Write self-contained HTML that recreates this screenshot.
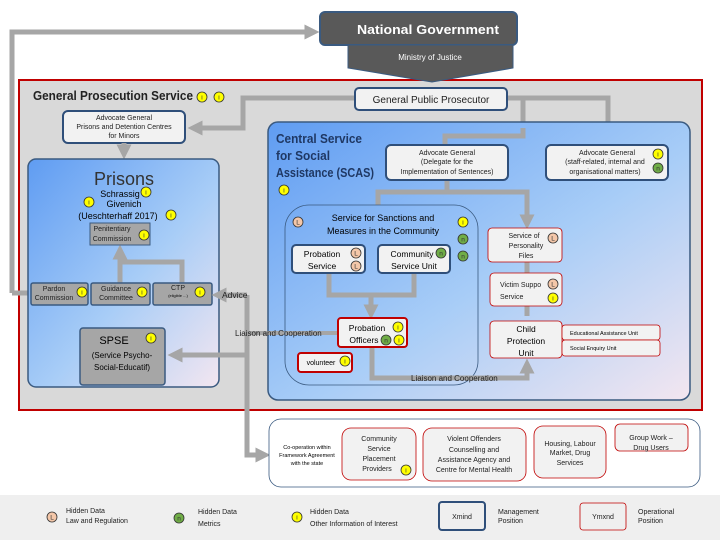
<!DOCTYPE html>
<html><head><meta charset="utf-8"><style>
body{margin:0;background:#fff}
svg{display:block;font-family:"Liberation Sans",sans-serif}
.s{font-size:7px;fill:#222}
</style></head><body>
<svg width="720" height="540" viewBox="0 0 720 540" xmlns="http://www.w3.org/2000/svg">
<defs>
<linearGradient id="bl" x1="0" y1="0" x2="1" y2="1">
<stop offset="0" stop-color="#5f9cf2"/><stop offset="0.55" stop-color="#a8cdf7"/><stop offset="1" stop-color="#f3e6f0"/>
</linearGradient>
<marker id="ar" markerWidth="3" markerHeight="3" refX="1.5" refY="1.5" orient="auto" markerUnits="strokeWidth"><path d="M0,0 L3,1.5 L0,3z" fill="#a6a6a6"/></marker>
</defs>
<rect x="19" y="80" width="683" height="330" fill="#d9d9d9" stroke="#c00000" stroke-width="2"/>
<path d="M12,293 L12,32 L312,32" fill="none" stroke="#a6a6a6" stroke-width="5" marker-end="url(#ar)"/>
<path d="M12,293 L30,293" stroke="#a6a6a6" stroke-width="5"/>
<rect x="320" y="12" width="197" height="33" rx="5" fill="#595959" stroke="#3a5a80" stroke-width="2"/>
<text x="428" y="34" font-size="13" font-weight="bold" fill="#fff" text-anchor="middle" textLength="142" lengthAdjust="spacingAndGlyphs">National Government</text>
<path d="M348,45 L513,45 L513,68 L432,82 L348,68z" fill="#595959" stroke="#3a5a80"/>
<text x="430" y="60" font-size="8" fill="#fff" text-anchor="middle">Ministry of Justice</text>
<text x="33" y="100" font-size="12.5" font-weight="bold" fill="#222" textLength="160" lengthAdjust="spacingAndGlyphs">General Prosecution Service</text>
<path d="M355,98 L243,98 L243,128 L195,128" fill="none" stroke="#a6a6a6" stroke-width="5" marker-end="url(#ar)"/>
<path d="M507,98 L608,98 L608,138" fill="none" stroke="#a6a6a6" stroke-width="5" marker-end="url(#ar)"/>
<path d="M523,98 L523,128" fill="none" stroke="#a6a6a6" stroke-width="5"/>
<rect x="355" y="88" width="152" height="22" rx="4" fill="#f2f2f2" stroke="#2f4f7a" stroke-width="2"/>
<text x="431" y="103" font-size="10" text-anchor="middle" fill="#222">General Public Prosecutor</text>
<rect x="63" y="111" width="122" height="32" rx="5" fill="#f2f2f2" stroke="#2f4f7a" stroke-width="2"/>
<text class="s" x="124" y="120" text-anchor="middle">Advocate General</text>
<text class="s" x="124" y="129" text-anchor="middle">Prisons and Detention Centres</text>
<text class="s" x="124" y="138" text-anchor="middle">for Minors</text>
<path d="M124,143 L124,152" stroke="#a6a6a6" stroke-width="5" marker-end="url(#ar)"/>
<rect x="28" y="159" width="191" height="228" rx="8" fill="url(#bl)" stroke="#3a5a80" stroke-width="1.5"/>
<text x="124" y="185" font-size="18" text-anchor="middle" fill="#333">Prisons</text>
<text x="120" y="197" font-size="9" text-anchor="middle">Schrassig</text>
<text x="124" y="207" font-size="9" text-anchor="middle">Givenich</text>
<text x="118" y="219" font-size="9" text-anchor="middle">(Ueschterhaff 2017)</text>
<path d="M120,283 L120,250 M182,283 L182,262 L120,262" fill="none" stroke="#a6a6a6" stroke-width="5"/>
<path d="M120,262 L120,252" stroke="#a6a6a6" stroke-width="5" marker-end="url(#ar)"/>
<rect x="90" y="223" width="60" height="22" fill="#a6a6a6" stroke="#3a5a80"/>
<text class="s" x="112" y="231" text-anchor="middle">Penitentiary</text>
<text class="s" x="112" y="241" text-anchor="middle">Commission</text>
<rect x="31" y="283" width="57" height="22" rx="2" fill="#a6a6a6" stroke="#3a5a80" stroke-width="1.5"/>
<text class="s" x="54" y="291" text-anchor="middle">Pardon</text><text class="s" x="54" y="300" text-anchor="middle">Commission</text>
<rect x="91" y="283" width="59" height="22" rx="2" fill="#a6a6a6" stroke="#3a5a80" stroke-width="1.5"/>
<text class="s" x="116" y="291" text-anchor="middle">Guidance</text><text class="s" x="116" y="300" text-anchor="middle">Committee</text>
<rect x="153" y="283" width="59" height="22" rx="2" fill="#a6a6a6" stroke="#3a5a80" stroke-width="1.5"/>
<text class="s" x="178" y="290" text-anchor="middle">CTP</text><text x="178" y="297" font-size="4" text-anchor="middle">(eligible ...)</text>
<rect x="80" y="328" width="85" height="57" rx="3" fill="#a6a6a6" stroke="#3a5a80" stroke-width="1.5"/>
<text x="114" y="344" font-size="11" text-anchor="middle">SPSE</text>
<text x="122" y="358" font-size="8" text-anchor="middle">(Service Psycho-</text>
<text x="122" y="370" font-size="8" text-anchor="middle">Social-Educatif)</text>
<path d="M247,295 L247,455 L263,455" fill="none" stroke="#a6a6a6" stroke-width="5" marker-end="url(#ar)"/>
<path d="M247,295 L219,295" stroke="#a6a6a6" stroke-width="5" marker-end="url(#ar)"/>
<path d="M247,355 L175,355" stroke="#a6a6a6" stroke-width="5" marker-end="url(#ar)"/>
<text x="222" y="298" font-size="8.5" fill="#222">Advice</text>
<rect x="268" y="122" width="422" height="278" rx="10" fill="url(#bl)" stroke="#3a5a80" stroke-width="1.5"/>
<path d="M247,333 L338,333" stroke="#a6a6a6" stroke-width="4"/>
<text x="235" y="336" font-size="8" fill="#222">Liaison and Cooperation</text>
<text font-size="12.5" font-weight="bold" fill="#1f3864"><tspan x="276" y="143" textLength="86" lengthAdjust="spacingAndGlyphs">Central Service</tspan><tspan x="276" y="160" textLength="54" lengthAdjust="spacingAndGlyphs">for Social</tspan><tspan x="276" y="177" textLength="98" lengthAdjust="spacingAndGlyphs">Assistance (SCAS)</tspan></text>
<path d="M523,128 L523,136 L445,136 L445,145" fill="none" stroke="#a6a6a6" stroke-width="5"/>
<path d="M447,180 L447,192 L378,192 L378,205 M447,192 L527,192 L527,222" fill="none" stroke="#a6a6a6" stroke-width="5"/>
<path d="M527,215 L527,222" stroke="#a6a6a6" stroke-width="5" marker-end="url(#ar)"/>
<rect x="386" y="145" width="122" height="35" rx="5" fill="#f2f2f2" stroke="#2f4f7a" stroke-width="2"/>
<text class="s" x="447" y="155" text-anchor="middle">Advocate General</text>
<text class="s" x="447" y="164" text-anchor="middle">(Delegate for the</text>
<text class="s" x="447" y="174" text-anchor="middle">Implementation of Sentences)</text>
<rect x="546" y="145" width="122" height="35" rx="5" fill="#f2f2f2" stroke="#2f4f7a" stroke-width="2"/>
<text class="s" x="607" y="155" text-anchor="middle">Advocate General</text>
<text class="s" x="605" y="164" text-anchor="middle">(staff-related, internal and</text>
<text class="s" x="605" y="174" text-anchor="middle">organisational matters)</text>
<rect x="285" y="205" width="193" height="180" rx="24" fill="none" stroke="#3a5a80" stroke-width="0.8"/>
<text x="383" y="221" font-size="9" text-anchor="middle">Service for Sanctions and</text>
<text x="383" y="234" font-size="9" text-anchor="middle">Measures in the Community</text>
<path d="M329,273 L329,295 L414,295 L414,273 M371,295 L371,310" fill="none" stroke="#a6a6a6" stroke-width="5"/>
<path d="M371,305 L371,312" stroke="#a6a6a6" stroke-width="5" marker-end="url(#ar)"/>
<path d="M372,347 L372,378 L527,378 L527,366" fill="none" stroke="#a6a6a6" stroke-width="5" marker-end="url(#ar)"/>
<path d="M527,262 L527,273 M527,306 L527,316" stroke="#a6a6a6" stroke-width="5"/>
<rect x="292" y="245" width="73" height="28" rx="4" fill="#f2f2f2" stroke="#2f4f7a" stroke-width="2"/>
<text x="322" y="257" font-size="8.5" text-anchor="middle">Probation</text><text x="322" y="269" font-size="8.5" text-anchor="middle">Service</text>
<rect x="378" y="245" width="72" height="28" rx="4" fill="#f2f2f2" stroke="#2f4f7a" stroke-width="2"/>
<text x="412" y="257" font-size="8.5" text-anchor="middle">Community</text><text x="414" y="269" font-size="8.5" text-anchor="middle">Service Unit</text>
<rect x="338" y="318" width="69" height="29" rx="3" fill="#f2f2f2" stroke="#c00000" stroke-width="2"/>
<text x="367" y="331" font-size="8.5" text-anchor="middle">Probation</text><text x="364" y="343" font-size="8.5" text-anchor="middle">Officers</text>
<rect x="298" y="353" width="54" height="19" rx="3" fill="#f2f2f2" stroke="#c00000" stroke-width="2"/>
<text x="321" y="365" font-size="7" text-anchor="middle">volunteer</text>
<rect x="488" y="228" width="74" height="34" rx="4" fill="#f2f2f2" stroke="#c00000" stroke-width="0.8"/>
<text class="s" x="524" y="238" text-anchor="middle">Service of</text><text class="s" x="526" y="248" text-anchor="middle">Personality</text><text class="s" x="526" y="258" text-anchor="middle">Files</text>
<rect x="490" y="273" width="72" height="33" rx="4" fill="#f2f2f2" stroke="#c00000" stroke-width="0.8"/>
<text class="s" x="500" y="287">Victim Suppo</text><text class="s" x="500" y="299">Service</text>
<rect x="490" y="321" width="72" height="37" rx="4" fill="#f2f2f2" stroke="#c00000" stroke-width="0.8"/>
<text x="526" y="332" font-size="8.5" text-anchor="middle">Child</text><text x="526" y="344" font-size="8.5" text-anchor="middle">Protection</text><text x="526" y="356" font-size="8.5" text-anchor="middle">Unit</text>
<rect x="562" y="325" width="98" height="15" rx="3" fill="#f2f2f2" stroke="#c00000" stroke-width="0.8"/>
<text x="570" y="335" font-size="5.5">Educational Assistance Unit</text>
<rect x="562" y="340" width="98" height="16" rx="3" fill="#f2f2f2" stroke="#c00000" stroke-width="0.8"/>
<text x="570" y="350" font-size="5.5">Social Enquiry Unit</text>
<text x="411" y="381" font-size="8" fill="#222">Liaison and Cooperation</text>
<rect x="269" y="419" width="431" height="68" rx="12" fill="#fff" stroke="#3a5a80" stroke-width="0.8"/>
<text x="307" y="449" font-size="5.5" text-anchor="middle">Co-operation within</text>
<text x="307" y="457" font-size="5.5" text-anchor="middle">Framework Agreement</text>
<text x="307" y="465" font-size="5.5" text-anchor="middle">with the state</text>
<rect x="342" y="428" width="74" height="52" rx="9" fill="#f2f2f2" stroke="#c00000" stroke-width="0.8"/>
<text class="s" x="379" y="441" text-anchor="middle">Community</text><text class="s" x="379" y="451" text-anchor="middle">Service</text><text class="s" x="379" y="461" text-anchor="middle">Placement</text><text class="s" x="377" y="471" text-anchor="middle">Providers</text>
<rect x="423" y="428" width="103" height="53" rx="9" fill="#f2f2f2" stroke="#c00000" stroke-width="0.8"/>
<text class="s" x="474" y="441" text-anchor="middle">Violent Offenders</text><text class="s" x="474" y="452" text-anchor="middle">Counselling and</text><text class="s" x="474" y="462" text-anchor="middle">Assistance Agency and</text><text class="s" x="474" y="472" text-anchor="middle">Centre for Mental Health</text>
<rect x="534" y="426" width="72" height="52" rx="9" fill="#f2f2f2" stroke="#c00000" stroke-width="0.8"/>
<text class="s" x="570" y="446" text-anchor="middle">Housing, Labour</text><text class="s" x="570" y="455" text-anchor="middle">Market, Drug</text><text class="s" x="570" y="465" text-anchor="middle">Services</text>
<rect x="615" y="424" width="73" height="27" rx="5" fill="#f2f2f2" stroke="#c00000" stroke-width="0.8"/>
<text class="s" x="651" y="440" text-anchor="middle">Group Work –</text><text class="s" x="651" y="450" text-anchor="middle">Drug Users</text>
<rect x="0" y="495" width="720" height="45" fill="#efefef"/>
<text class="s" x="66" y="513">Hidden Data</text><text class="s" x="66" y="523">Law and Regulation</text>
<text class="s" x="198" y="514">Hidden Data</text><text class="s" x="198" y="526">Metrics</text>
<text class="s" x="310" y="514">Hidden Data</text><text class="s" x="310" y="526">Other Information of Interest</text>
<rect x="439" y="502" width="46" height="28" rx="3" fill="#efefef" stroke="#2f4f7a" stroke-width="2"/>
<text class="s" x="462" y="519" text-anchor="middle">Xmind</text>
<text class="s" x="498" y="514">Management</text><text class="s" x="498" y="523">Position</text>
<rect x="580" y="503" width="46" height="27" rx="3" fill="#efefef" stroke="#c00000" stroke-width="0.8"/>
<text class="s" x="603" y="519" text-anchor="middle">Ymxnd</text>
<text class="s" x="638" y="514">Operational</text><text class="s" x="638" y="523">Position</text>
<g font-size="7" text-anchor="middle" stroke-width="0.8">
<g fill="#ffff00" stroke="#333">
<circle cx="202" cy="97" r="5"/><circle cx="219" cy="97" r="5"/>
<circle cx="146" cy="192" r="5"/><circle cx="89" cy="202" r="5"/><circle cx="171" cy="215" r="5"/>
<circle cx="144" cy="235" r="5"/><circle cx="82" cy="292" r="5"/><circle cx="142" cy="292" r="5"/><circle cx="200" cy="292" r="5"/>
<circle cx="151" cy="338" r="5"/><circle cx="284" cy="190" r="5"/><circle cx="463" cy="222" r="5"/>
<circle cx="398" cy="327" r="5"/><circle cx="399" cy="340" r="5"/><circle cx="345" cy="361" r="5"/>
<circle cx="553" cy="298" r="5"/><circle cx="658" cy="154" r="5"/><circle cx="406" cy="470" r="5"/><circle cx="297" cy="517" r="5"/>
</g>
<g fill="#70ad47" stroke="#333">
<circle cx="463" cy="239" r="5"/><circle cx="463" cy="256" r="5"/><circle cx="441" cy="253" r="5"/><circle cx="386" cy="340" r="5"/><circle cx="658" cy="168" r="5"/><circle cx="179" cy="518" r="5"/>
</g>
<g fill="#f4c7a9" stroke="#333">
<circle cx="298" cy="222" r="5"/><circle cx="356" cy="253" r="5"/><circle cx="356" cy="266" r="5"/><circle cx="553" cy="238" r="5"/><circle cx="553" cy="284" r="5"/><circle cx="52" cy="517" r="5"/>
</g>
</g>
<g font-size="6.5" text-anchor="middle" fill="#333">
<text x="202" y="99.5">i</text><text x="219" y="99.5">i</text><text x="146" y="194.5">i</text><text x="89" y="204.5">i</text><text x="171" y="217.5">i</text><text x="144" y="237.5">i</text><text x="82" y="294.5">i</text><text x="142" y="294.5">i</text><text x="200" y="294.5">i</text><text x="151" y="340.5">i</text><text x="284" y="192.5">i</text><text x="463" y="224.5">i</text><text x="398" y="329.5">i</text><text x="399" y="342.5">i</text><text x="345" y="363.5">i</text><text x="553" y="300.5">i</text><text x="658" y="156.5">i</text><text x="406" y="472.5">i</text><text x="297" y="519.5">i</text>
<text x="463" y="241.5">n</text><text x="463" y="258.5">n</text><text x="441" y="255.5">n</text><text x="386" y="342.5">n</text><text x="658" y="170.5">n</text><text x="179" y="520.5">n</text>
<text x="298" y="224.5">L</text><text x="356" y="255.5">L</text><text x="356" y="268.5">L</text><text x="553" y="240.5">L</text><text x="553" y="286.5">L</text><text x="52" y="519.5">L</text>
</g>
</svg>
</body></html>
